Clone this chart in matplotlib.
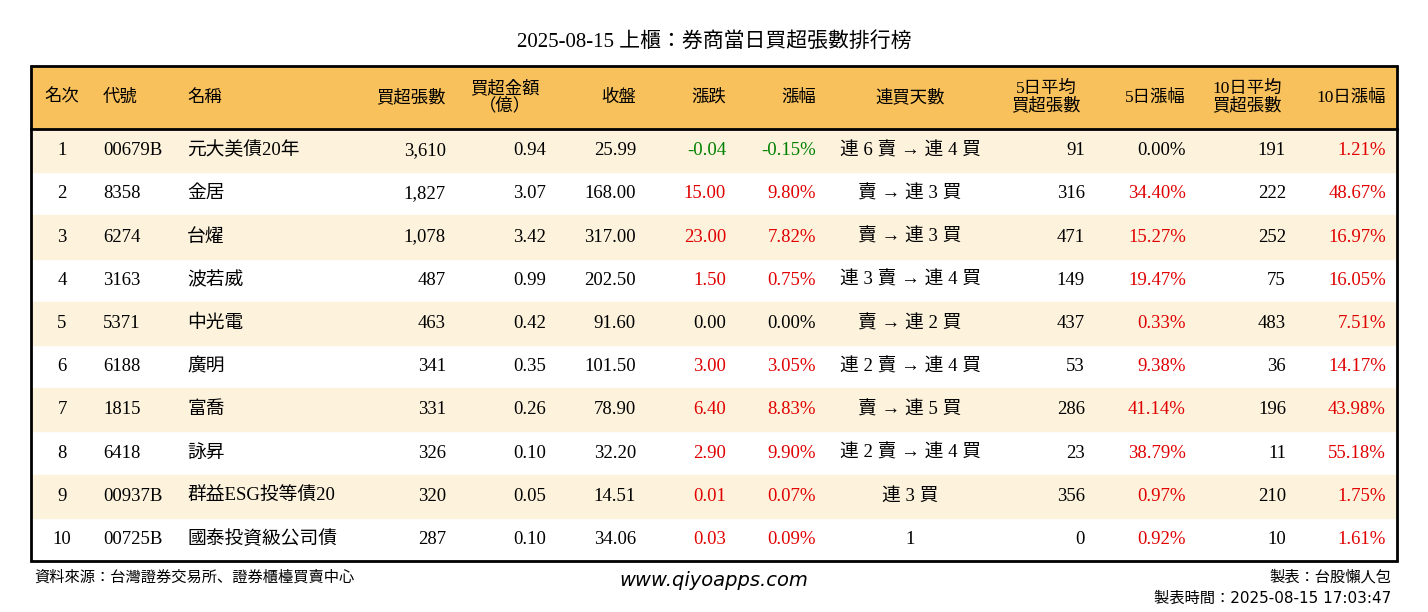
import matplotlib
matplotlib.use("Agg")
import matplotlib.pyplot as plt
from matplotlib.patches import Rectangle

title = "2025-08-15 上櫃：券商當日買超張數排行榜"
headers = ["名次", "代號", "名稱", "買超張數", "買超金額\n（億）", "收盤", "漲跌", "漲幅",
           "連買天數", "5日平均\n買超張數", "5日漲幅", "10日平均\n買超張數", "10日漲幅"]
ranks = [1, 2, 3, 4, 5, 6, 7, 8, 9, 10]
codes = ["00679B", "8358", "6274", "3163", "5371", "6188", "1815", "6418", "00937B", "00725B"]
names = ["元大美債20年", "金居", "台燿", "波若威", "中光電", "廣明", "富喬", "詠昇", "群益ESG投等債20", "國泰投資級公司債"]
net_buy = [3610, 1827, 1078, 487, 463, 341, 331, 326, 320, 287]
amount = [0.94, 3.07, 3.42, 0.99, 0.42, 0.35, 0.26, 0.10, 0.05, 0.10]
close = [25.99, 168.00, 317.00, 202.50, 91.60, 101.50, 78.90, 32.20, 14.51, 34.06]
change = [-0.04, 15.00, 23.00, 1.50, 0.00, 3.00, 6.40, 2.90, 0.01, 0.03]
pct = [-0.15, 9.80, 7.82, 0.75, 0.00, 3.05, 8.83, 9.90, 0.07, 0.09]
streak = ["連 6 賣 → 連 4 買", "賣 → 連 3 買", "賣 → 連 3 買", "連 3 賣 → 連 4 買", "賣 → 連 2 買",
          "連 2 賣 → 連 4 買", "賣 → 連 5 買", "連 2 賣 → 連 4 買", "連 3 買", "1"]
avg5 = [91, 316, 471, 149, 437, 53, 286, 23, 356, 0]
pct5 = [0.00, 34.40, 15.27, 19.47, 0.33, 9.38, 41.14, 38.79, 0.97, 0.92]
avg10 = [191, 222, 252, 75, 483, 36, 196, 11, 210, 10]
pct10 = [1.21, 48.67, 16.97, 16.05, 7.51, 14.17, 43.98, 55.18, 1.75, 1.61]

W, H = 1428, 612
fig = plt.figure(figsize=(W / 100, H / 100), dpi=100)
ax = fig.add_axes([0, 0, 1, 1])
ax.set_xlim(0, W)
ax.set_ylim(H, 0)
ax.axis("off")

CJK = "Noto Sans CJK JP"
SERIF = "Liberation Serif"
MIX = [SERIF, CJK]

def col(v):
    return "#E00000" if v > 0 else ("#008000" if v < 0 else "black")

ORANGE = "#F8C15C"
CREAM = "#FDF3DD"
left, right, top, hbot, bot = 31, 1397, 66, 129, 561
rh = (bot - hbot) / len(ranks)

ax.text(W / 2, 42, title, ha="center", va="center", fontsize=15, family=MIX)
ax.add_patch(Rectangle((left, top), right - left, hbot - top, color=ORANGE, zorder=0))
for i in range(len(ranks)):
    if i % 2 == 0:
        ax.add_patch(Rectangle((left, hbot + i * rh), right - left, rh, color=CREAM, zorder=0))
ax.add_patch(Rectangle((left, top), right - left, bot - top, fill=False, lw=2, ec="black", zorder=3))
ax.plot([left, right], [hbot, hbot], color="black", lw=2, zorder=3)

hdr_pos = [(62, "center"), (103, "left"), (187, "left"), (446, "right"), (505, "center"),
           (636, "right"), (726, "right"), (816, "right"), (910, "center"), (1046, "center"),
           (1186, "right"), (1247, "center"), (1386, "right")]
cell_pos = [(62, "center"), (103, "left"), (187, "left"), (446, "right"), (546, "right"),
            (636, "right"), (726, "right"), (816, "right"), (910, "center"), (1085, "right"),
            (1186, "right"), (1286, "right"), (1386, "right")]
hy = (top + hbot) / 2
for (x, ha), h in zip(hdr_pos, headers):
    ax.text(x, hy, h, ha=ha, va="center", fontsize=12.5, linespacing=1.0, family=MIX)

for i in range(len(ranks)):
    y = hbot + (i + 0.5) * rh
    cells = [
        (str(ranks[i]), "black"), (codes[i], "black"), (names[i], "black"),
        (f"{net_buy[i]:,}", "black"), (f"{amount[i]:.2f}", "black"), (f"{close[i]:.2f}", "black"),
        (f"{change[i]:.2f}", col(change[i])), (f"{pct[i]:.2f}%", col(pct[i])),
        (streak[i], "black"), (f"{avg5[i]:,}", "black"), (f"{pct5[i]:.2f}%", col(pct5[i])),
        (f"{avg10[i]:,}", "black"), (f"{pct10[i]:.2f}%", col(pct10[i])),
    ]
    for (x, ha), (t, c) in zip(cell_pos, cells):
        ax.text(x, y, t, ha=ha, va="center", fontsize=13.5, color=c, family=MIX)

ax.text(34, 577, "資料來源：台灣證券交易所、證券櫃檯買賣中心", ha="left", va="center",
        fontsize=11, family=CJK)
ax.text(714, 580, "www.qiyoapps.com", ha="center", va="center", fontsize=14,
        style="italic", family="DejaVu Sans")
ax.text(1391, 577, "製表：台股懶人包", ha="right", va="center", fontsize=11, family=CJK)
ax.text(1391, 598, "製表時間：2025-08-15 17:03:47", ha="right", va="center", fontsize=11,
        family=["DejaVu Sans", CJK])

fig.savefig("out.png", dpi=100, facecolor="white")
